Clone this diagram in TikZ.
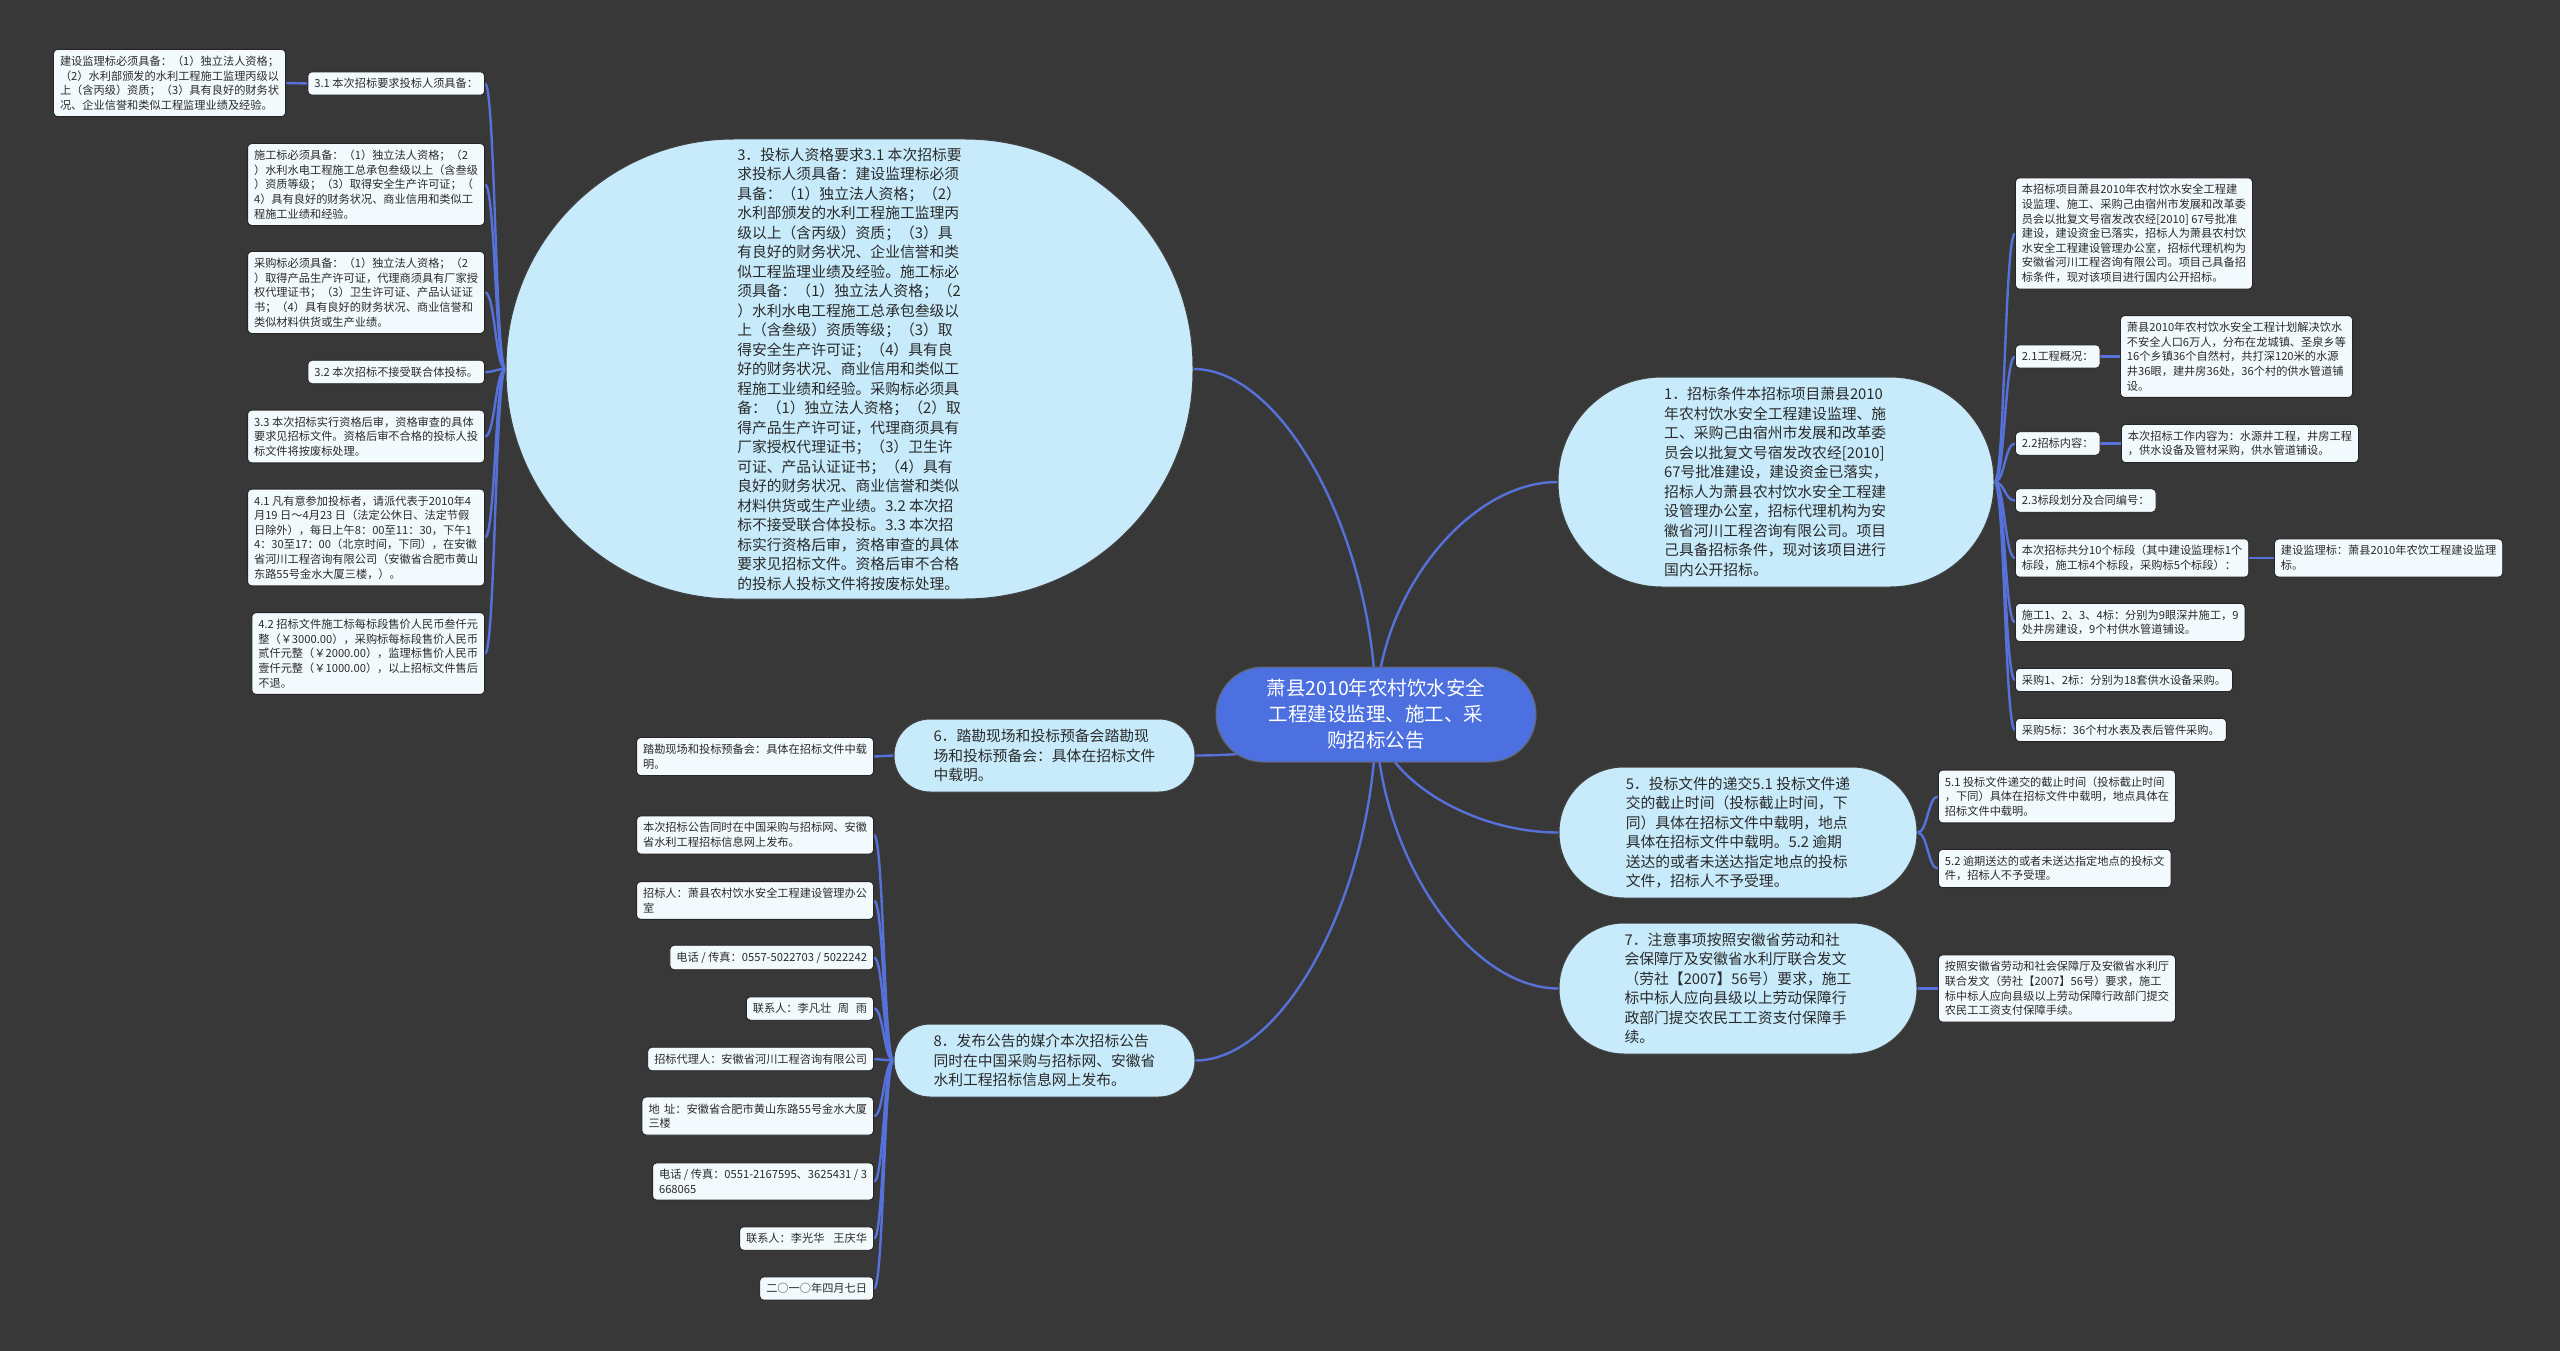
\documentclass[tikz,border=0pt]{standalone}
\usepackage{fontspec}
\setmainfont{Noto Sans CJK SC}
\usetikzlibrary{calc}
\definecolor{bgc}{HTML}{383838}
\definecolor{linkc}{HTML}{5672DA}
\definecolor{mainc}{HTML}{C8EBFB}
\definecolor{leafc}{HTML}{F3FAFD}
\definecolor{centc}{HTML}{4C70E0}
\definecolor{txtc}{HTML}{2A2A2A}
\pgfdeclarelayer{bglayer}
\pgfdeclarelayer{lklayer}
\pgfsetlayers{bglayer,lklayer,main}
\newcommand\mmtreelink[2]{\draw[link] let \p1=(#1), \p2=(#2) in (\p1) .. controls ({0.5*\x1+0.5*\x2},\y1) and ({0.5*\x1+0.5*\x2},\y2) .. (\p2);}
\newcommand\mmcentlink[2]{\draw[link] let \p1=(#1), \p2=(#2) in (\p1) .. controls (\x1,{0.5*\y1+0.5*\y2}) and ({0.5*\x1+0.5*\x2},\y2) .. (\p2);}
\begin{document}
\begin{tikzpicture}[x=1pt,y=-1pt,
  link/.style={draw=linkc, line width=2.4pt},
  mainnode/.style={draw=black!75, line width=1pt, fill=mainc, inner sep=0pt, align=left, text=txtc, font=\fontsize{14.8}{19.5}\selectfont},
  leaf/.style={draw=black!85, line width=0.9pt, fill=leafc, rounded corners=4pt, inner xsep=6.5pt, inner ysep=6.5pt, align=left, text=txtc, font=\fontsize{11.2}{14.6}\selectfont},
  lleaf/.style={leaf, anchor=east},
  rleaf/.style={leaf, anchor=west}
]
\begin{pgfonlayer}{bglayer}
\fill[bgc] (0,0) rectangle (2560,1351);
\end{pgfonlayer}
\useasboundingbox (0,0) rectangle (2560,1351);

% central
\node[draw=black!60, line width=1pt, fill=centc, text=white, align=center, inner sep=0pt,
  minimum width=320, minimum height=95, rounded corners=47pt,
  font=\fontsize{19.5}{26}\selectfont] (c) at (1376,714.5)
  {萧县2010年农村饮水安全\\工程建设监理、施工、采\\购招标公告};

% main nodes
\node[mainnode, minimum width=687, minimum height=460, rounded corners=228pt] (n3) at (849.5,369)
{3．投标人资格要求3.1 本次招标要\\求投标人须具备：建设监理标必须\\具备：（1）独立法人资格；（2）\\水利部颁发的水利工程施工监理丙\\级以上（含丙级）资质；（3）具\\有良好的财务状况、企业信誉和类\\似工程监理业绩及经验。施工标必\\须具备：（1）独立法人资格；（2\\）水利水电工程施工总承包叁级以\\上（含叁级）资质等级；（3）取\\得安全生产许可证；（4）具有良\\好的财务状况、商业信用和类似工\\程施工业绩和经验。采购标必须具\\备：（1）独立法人资格；（2）取\\得产品生产许可证，代理商须具有\\厂家授权代理证书；（3）卫生许\\可证、产品认证证书；（4）具有\\良好的财务状况、商业信誉和类似\\材料供货或生产业绩。3.2 本次招\\标不接受联合体投标。3.3 本次招\\标实行资格后审，资格审查的具体\\要求见招标文件。资格后审不合格\\的投标人投标文件将按废标处理。};

\node[mainnode, minimum width=436, minimum height=210, rounded corners=104pt] (n1) at (1776,482)
{1．招标条件本招标项目萧县2010\\年农村饮水安全工程建设监理、施\\工、采购己由宿州市发展和改革委\\员会以批复文号宿发改农经[2010]\\67号批准建设，建设资金已落实，\\招标人为萧县农村饮水安全工程建\\设管理办公室，招标代理机构为安\\徽省河川工程咨询有限公司。项目\\己具备招标条件，现对该项目进行\\国内公开招标。};

\node[mainnode, minimum width=301, minimum height=73, rounded corners=36pt] (n6) at (1044.5,755.5)
{6．踏勘现场和投标预备会踏勘现\\场和投标预备会：具体在招标文件\\中载明。};

\node[mainnode, minimum width=301, minimum height=73, rounded corners=36pt] (n8) at (1044.5,1060.5)
{8．发布公告的媒介本次招标公告\\同时在中国采购与招标网、安徽省\\水利工程招标信息网上发布。};

\node[mainnode, minimum width=358, minimum height=131, rounded corners=65pt] (n5) at (1738,832.5)
{5．投标文件的递交5.1 投标文件递\\交的截止时间（投标截止时间，下\\同）具体在招标文件中载明，地点\\具体在招标文件中载明。5.2 逾期\\送达的或者未送达指定地点的投标\\文件，招标人不予受理。};

\node[mainnode, minimum width=358, minimum height=131, rounded corners=65pt] (n7) at (1738,988.5)
{7．注意事项按照安徽省劳动和社\\会保障厅及安徽省水利厅联合发文\\（劳社【2007】56号）要求，施工\\标中标人应向县级以上劳动保障行\\政部门提交农民工工资支付保障手\\续。};

% left leaves of n3
\node[lleaf] (L1) at (485,83.5) {3.1 本次招标要求投标人须具备：};
\node[lleaf] (L0) at (286,83) {建设监理标必须具备：（1）独立法人资格；\\（2）水利部颁发的水利工程施工监理丙级以\\上（含丙级）资质；（3）具有良好的财务状\\况、企业信誉和类似工程监理业绩及经验。};
\node[lleaf] (L2) at (485,184.5) {施工标必须具备：（1）独立法人资格；（2\\）水利水电工程施工总承包叁级以上（含叁级\\）资质等级；（3）取得安全生产许可证；（\\4）具有良好的财务状况、商业信用和类似工\\程施工业绩和经验。};
\node[lleaf] (L3) at (485,292.5) {采购标必须具备：（1）独立法人资格；（2\\）取得产品生产许可证，代理商须具有厂家授\\权代理证书；（3）卫生许可证、产品认证证\\书；（4）具有良好的财务状况、商业信誉和\\类似材料供货或生产业绩。};
\node[lleaf] (L4) at (485,372) {3.2 本次招标不接受联合体投标。};
\node[lleaf] (L5) at (485,436.5) {3.3 本次招标实行资格后审，资格审查的具体\\要求见招标文件。资格后审不合格的投标人投\\标文件将按废标处理。};
\node[lleaf] (L6) at (485,537.5) {4.1 凡有意参加投标者，请派代表于2010年4\\月19 日～4月23 日（法定公休日、法定节假\\日除外），每日上午8：00至11：30，下午1\\4：30至17：00（北京时间，下同），在安徽\\省河川工程咨询有限公司（安徽省合肥市黄山\\东路55号金水大厦三楼，）。};
\node[lleaf] (L7) at (485,653.5) {4.2 招标文件施工标每标段售价人民币叁仟元\\整（￥3000.00），采购标每标段售价人民币\\贰仟元整（￥2000.00），监理标售价人民币\\壹仟元整（￥1000.00），以上招标文件售后\\不退。};

% n6 leaf
\node[lleaf] (S6) at (874,756.5) {踏勘现场和投标预备会：具体在招标文件中载\\明。};

% n8 leaves
\node[lleaf] (B1) at (874,835) {本次招标公告同时在中国采购与招标网、安徽\\省水利工程招标信息网上发布。};
\node[lleaf] (B2) at (874,900.5) {招标人：萧县农村饮水安全工程建设管理办公\\室};
\node[lleaf] (B3) at (874,957.5) {电话 / 传真：0557-5022703 / 5022242};
\node[lleaf] (B4) at (874,1008.5) {联系人：李凡壮\hspace{0.6em}周\hspace{0.6em}雨};
\node[lleaf] (B5) at (874,1059) {招标代理人：安徽省河川工程咨询有限公司};
\node[lleaf] (B6) at (874,1116) {地\hspace{0.4em}址：安徽省合肥市黄山东路55号金水大厦\\三楼};
\node[lleaf] (B7) at (874,1181.5) {电话 / 传真：0551-2167595、3625431 / 3\\668065};
\node[lleaf] (B8) at (874,1238.5) {联系人：李光华\hspace{0.8em}王庆华};
\node[lleaf] (B9) at (874,1288.5) {二○一○年四月七日};

% n1 leaves
\node[rleaf] (R0) at (2015,233.5) {本招标项目萧县2010年农村饮水安全工程建\\设监理、施工、采购己由宿州市发展和改革委\\员会以批复文号宿发改农经[2010] 67号批准\\建设，建设资金已落实，招标人为萧县农村饮\\水安全工程建设管理办公室，招标代理机构为\\安徽省河川工程咨询有限公司。项目己具备招\\标条件，现对该项目进行国内公开招标。};
\node[rleaf] (R1) at (2015,356.5) {2.1工程概况：};
\node[rleaf] (R1c) at (2120,356.5) {萧县2010年农村饮水安全工程计划解决饮水\\不安全人口6万人，分布在龙城镇、圣泉乡等\\16个乡镇36个自然村，共打深120米的水源\\井36眼，建井房36处，36个村的供水管道铺\\设。};
\node[rleaf] (R2) at (2015,443.5) {2.2招标内容：};
\node[rleaf] (R2c) at (2121,443.5) {本次招标工作内容为：水源井工程，井房工程\\，供水设备及管材采购，供水管道铺设。};
\node[rleaf] (R3) at (2015,500.5) {2.3标段划分及合同编号：};
\node[rleaf] (R4) at (2015,558) {本次招标共分10个标段（其中建设监理标1个\\标段，施工标4个标段，采购标5个标段）：};
\node[rleaf] (R4c) at (2274,558) {建设监理标：萧县2010年农饮工程建设监理\\标。};
\node[rleaf] (R5) at (2015,622.5) {施工1、2、3、4标：分别为9眼深井施工，9\\处井房建设，9个村供水管道铺设。};
\node[rleaf] (R6) at (2015,680) {采购1、2标：分别为18套供水设备采购。};
\node[rleaf] (R7) at (2015,730) {采购5标：36个村水表及表后管件采购。};

% n5, n7 leaves
\node[rleaf] (F1) at (1938,796.5) {5.1 投标文件递交的截止时间（投标截止时间\\，下同）具体在招标文件中载明，地点具体在\\招标文件中载明。};
\node[rleaf] (F2) at (1938,868.5) {5.2 逾期送达的或者未送达指定地点的投标文\\件，招标人不予受理。};
\node[rleaf] (G1) at (1938,988.5) {按照安徽省劳动和社会保障厅及安徽省水利厅\\联合发文（劳社【2007】56号）要求，施工\\标中标人应向县级以上劳动保障行政部门提交\\农民工工资支付保障手续。};

\begin{pgfonlayer}{lklayer}
% central links
\mmcentlink{c.center}{n3.east}
\mmcentlink{c.center}{n1.west}
\mmcentlink{c.center}{n6.east}
\mmcentlink{c.center}{n5.west}
\mmcentlink{c.center}{n7.west}
\mmcentlink{c.center}{n8.east}
% n3 tree
\foreach \k in {L1,L2,L3,L4,L5,L6,L7} {\mmtreelink{n3.west}{\k.east}}
\draw[link] (L1.west) -- (L0.east);
% n6
\mmtreelink{n6.west}{S6.east}
% n8
\foreach \k in {B1,B2,B3,B4,B5,B6,B7,B8,B9} {\mmtreelink{n8.west}{\k.east}}
% n1
\foreach \k in {R0,R1,R2,R3,R4,R5,R6,R7} {\mmtreelink{n1.east}{\k.west}}
\draw[link] (R1.east) -- (R1c.west);
\draw[link] (R2.east) -- (R2c.west);
\draw[link] (R4.east) -- (R4c.west);
% n5, n7
\mmtreelink{n5.east}{F1.west}
\mmtreelink{n5.east}{F2.west}
\mmtreelink{n7.east}{G1.west}
\end{pgfonlayer}
\end{tikzpicture}
\end{document}
